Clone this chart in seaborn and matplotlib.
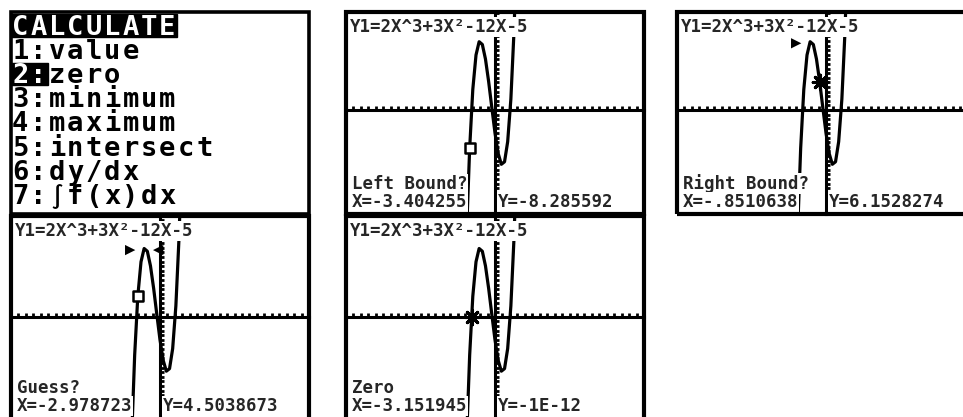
import matplotlib
matplotlib.use("Agg")
import matplotlib.pyplot as plt
from matplotlib.patches import Rectangle
from matplotlib.ticker import MultipleLocator
import seaborn as sns

sns.set_style("white")
plt.rcParams['font.family'] = ['DejaVu Sans Mono', 'DejaVu Sans']

W, H = 963, 417

# ---- data ----
equation = "Y1=2X^3+3X²-12X-5"
menu_title = "CALCULATE"
menu_items = ["1:value", "2:zero", "3:minimum", "4:maximum",
              "5:intersect", "6:dy/dx", "7:∫f(x)dx"]
selected_item = 1

# one point per pixel column of the TI screen (x step 20/47)
curve_x = [-3.83, -3.40, -2.98, -2.55, -2.13, -1.70, -1.28, -0.85, -0.43,
           0.0, 0.43, 0.85, 1.28, 1.70, 2.13, 2.55, 2.98]
curve_y = [-27.4, -8.29, 4.47, 11.95, 14.84, 14.24, 11.08, 6.14, 0.56,
           -5.0, -9.45, -11.80, -11.25, -6.90, 2.38, 17.07, 38.8]

left_bound_x = -3.404255
right_bound_x = -0.8510638

prompts = ["Left Bound?", "Right Bound?", "Guess?", "Zero"]
x_labels = ["X=-3.404255", "X=-.8510638", "X=-2.978723", "X=-3.151945"]
y_labels = ["Y=-8.285592", "Y=6.1528274", "Y=4.5038673", "Y=-1E-12"]
cursor_x = [-3.404255, -0.8510638, -2.978723, -3.151945]
cursor_y = [-8.285592, 6.1528274, 4.5038673, 0.0]
cursor_kind = ["box", "star", "box", "star"]
bounds_shown = [[], ["L"], ["L", "R"], []]

# ---- layout (pixel boxes x0, y0, x1, y1) ----
menu_box = (11, 12, 309, 214)
graph_boxes = [(346, 12, 644, 214), (677, 12, 975, 214),
               (11, 216, 309, 420), (346, 216, 644, 420)]
graph_ylims = [(-22.6, 21.3), (-22.6, 21.3), (-22.4, 21.9), (-22.4, 21.9)]
MARK_ROW = 14.5
CELL_W = 18.4      # px per character cell on the menu screen
ROW_H = 24.1       # px per text row on the menu screen
BASE0 = 23         # baseline of first row below the panel top


def frac(box):
    x0, y0, x1, y1 = box
    return [x0 / W, 1 - y1 / H, (x1 - x0) / W, (y1 - y0) / H]


def put(ax, box, dx, dy, s, size, **kw):
    w = box[2] - box[0]
    h = box[3] - box[1]
    kw.setdefault('ha', 'left')
    ax.text(dx / w, 1 - dy / h, s, transform=ax.transAxes, fontsize=size,
            va='baseline', zorder=6, **kw)


def border(ax, lw=3.0):
    ax.add_patch(Rectangle((0, 0), 1, 1, transform=ax.transAxes, fill=False,
                           lw=lw, ec='black', clip_on=False, zorder=10))


def menu_row(ax, box, row, text, inverted_cells=0, size=19.5):
    w = box[2] - box[0]
    h = box[3] - box[1]
    base = BASE0 + ROW_H * row
    if inverted_cells:
        ax.add_patch(Rectangle((0, 1 - (base + 1.5) / h),
                               inverted_cells * CELL_W / w, (ROW_H - 2) / h,
                               transform=ax.transAxes, color='black', zorder=5))
    for j, ch in enumerate(text):
        col = 'white' if j < inverted_cells else 'black'
        # the integral sign is taller than the other glyphs
        sz = size * 0.8 if ch == '∫' else size
        put(ax, box, (j + 0.5) * CELL_W, base, ch, sz, color=col,
            ha='center', fontweight='bold')


fig = plt.figure(figsize=(W / 100, H / 100), dpi=100)

# ---- menu screen ----
ax = fig.add_axes(frac(menu_box))
ax.set_xlim(0, 1)
ax.set_ylim(0, 1)
ax.axis('off')
border(ax, 2.6)
menu_row(ax, menu_box, 0, menu_title, inverted_cells=len(menu_title))
for i, item in enumerate(menu_items):
    menu_row(ax, menu_box, i + 1, item,
             inverted_cells=2 if i == selected_item else 0)

# ---- graph screens ----
small = 12.5
white_box = dict(facecolor='white', edgecolor='none', boxstyle='square,pad=0.05')
for k, box in enumerate(graph_boxes):
    ax = fig.add_axes(frac(box))
    sns.lineplot(x=curve_x, y=curve_y, ax=ax, color='black', lw=2.3,
                 sort=False, estimator=None, legend=False)
    ax.set_xlim(-20, 20)
    ax.set_ylim(*graph_ylims[k])
    ax.spines['left'].set_position(('data', 0))
    ax.spines['bottom'].set_position(('data', 0))
    ax.spines['top'].set_visible(False)
    ax.spines['right'].set_visible(False)
    for sp in ('left', 'bottom'):
        ax.spines[sp].set_linewidth(2.2)
        ax.spines[sp].set_color('black')
    ax.xaxis.set_major_locator(MultipleLocator(1))
    ax.yaxis.set_major_locator(MultipleLocator(1))
    ax.tick_params(bottom=True, left=True, direction='in', length=3.2,
                   width=2.0, color='black', labelbottom=False, labelleft=False)
    ax.set_xlabel('')
    ax.set_ylabel('')
    border(ax)

    if cursor_kind[k] == 'box':
        sns.scatterplot(x=[cursor_x[k]], y=[cursor_y[k]], ax=ax, marker='s',
                        s=45, facecolor='white', edgecolor='black',
                        linewidth=1.8, zorder=4, legend=False)
    else:
        sns.scatterplot(x=[cursor_x[k]], y=[cursor_y[k]], ax=ax,
                        marker=(8, 2, 0), s=110, color='black',
                        linewidth=2.2, zorder=4, legend=False)
    if "L" in bounds_shown[k]:
        sns.scatterplot(x=[left_bound_x - 0.6], y=[MARK_ROW], ax=ax, marker='>',
                        s=55, color='black', edgecolor='none', zorder=4, legend=False)
    if "R" in bounds_shown[k]:
        sns.scatterplot(x=[right_bound_x + 0.6], y=[MARK_ROW], ax=ax, marker='<',
                        s=55, color='black', edgecolor='none', zorder=4, legend=False)

    put(ax, box, 4, 20, equation, small, fontweight='bold', bbox=white_box)
    put(ax, box, 6, 177, prompts[k], small, fontweight='bold', bbox=white_box)
    put(ax, box, 6, 195, x_labels[k], small, fontweight='bold', bbox=white_box)
    put(ax, box, 152, 195, y_labels[k], small, fontweight='bold', bbox=white_box)

fig.savefig('out.png', dpi=100)
